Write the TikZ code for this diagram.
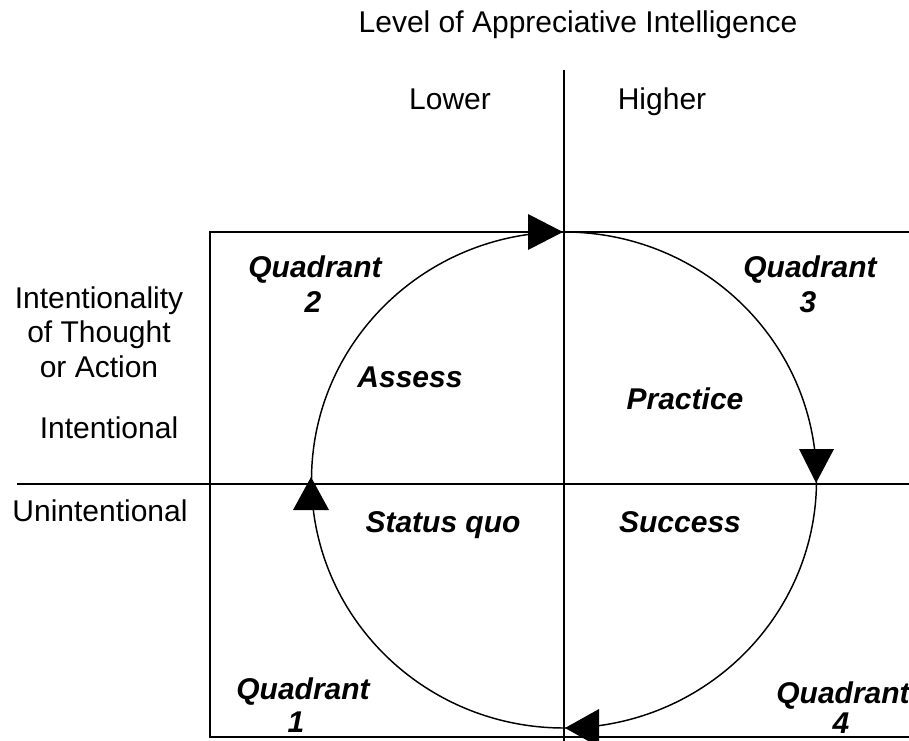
\documentclass[tikz,border=0pt]{standalone}
\usepackage{fontspec}
\setmainfont{Liberation Sans}
\begin{document}
\begin{tikzpicture}[x=0.75pt,y=-0.75pt,
  lbl/.style={anchor=base,inner sep=0pt,font=\fontsize{22.5}{27}\selectfont},
  qlbl/.style={lbl,font=\fontsize{22.5}{27}\selectfont\bfseries\itshape},
  axis/.style={line width=1.5pt},
  ring/.style={line width=1.1pt},
  tip/.style={fill=black,draw=none}]
\useasboundingbox (0,0) rectangle (909,741);
% frame and axes
\draw[axis] (912,232) -- (210,232) -- (210,737) -- (912,737);
\coordinate (hl) at (17,484);
\coordinate (hr) at (912,484);
\coordinate (vt) at (564,70);
\coordinate (vb) at (564,745);
\draw[axis] (hl) -- (hr);
\draw[axis] (vt) -- (vb);
% circle
\coordinate (c) at (564,480);
\draw[ring] (c) ellipse [x radius=252.5, y radius=248];
% arrowheads
\fill[tip] (563,232) -- (528,214) -- (528,250) -- cycle;
\fill[tip] (816,483) -- (799,449) -- (834,449) -- cycle;
\fill[tip] (565,728) -- (599,709) -- (599,747) -- cycle;
\fill[tip] (311,477) -- (293,510) -- (329,510) -- cycle;
% texts
\node[lbl] (title) at (578,33) {Level of Appreciative Intelligence};
\node[lbl] (lower) at (450,110) {Lower};
\node[lbl] (higher) at (662,110) {Higher};
\node[lbl] (i1) at (99,308) {Intentionality};
\node[lbl] (i2) at (99,342) {of Thought};
\node[lbl] (i3) at (99,377) {or Action};
\node[lbl] (int) at (109,438) {Intentional};
\node[lbl] (unint) at (100,521) {Unintentional};
\node[qlbl] (q2a) at (315,277) {Quadrant};
\node[qlbl] (q2b) at (313,312) {2};
\node[qlbl] (q3a) at (810,277) {Quadrant};
\node[qlbl] (q3b) at (808,312) {3};
\node[qlbl] (q1a) at (303,699) {Quadrant};
\node[qlbl] (q1b) at (296,732) {1};
\node[qlbl] (q4a) at (843,703) {Quadrant};
\node[qlbl] (q4b) at (841,733) {4};
\node[qlbl] (assess) at (410,387) {Assess};
\node[qlbl] (practice) at (685,409) {Practice};
\node[qlbl] (status) at (443,532) {Status quo};
\node[qlbl] (success) at (680,532) {Success};
\end{tikzpicture}
\end{document}
